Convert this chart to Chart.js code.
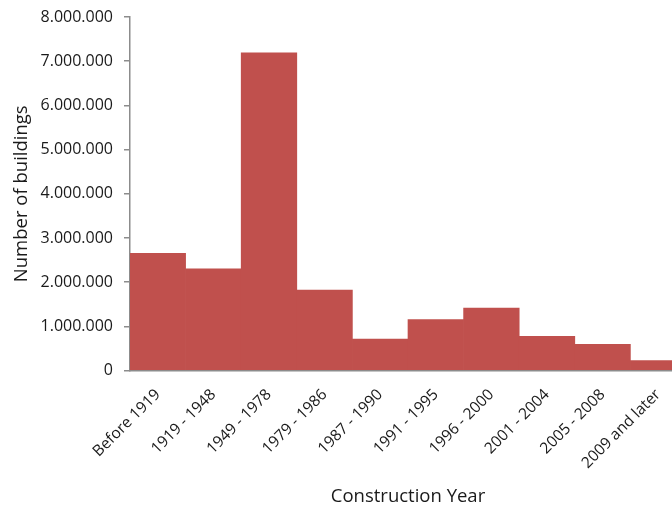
<!DOCTYPE html>
<html>
<head>
<meta charset="utf-8">
<script src="https://cdn.jsdelivr.net/npm/chart.js@4/dist/chart.umd.min.js"></script>
<style>
  html, body { margin: 0; padding: 0; background: #fff; overflow: hidden; }
  #wrap { width: 700px; height: 508px; }
</style>
</head>
<body>
<div id="wrap"><canvas id="c" width="700" height="508"></canvas></div>
<script>
// Building stock by construction period
const categories = [
  'Before 1919', '1919 - 1948', '1949 - 1978', '1979 - 1986', '1987 - 1990',
  '1991 - 1995', '1996 - 2000', '2001 - 2004', '2005 - 2008', '2009 and later'
];
const buildings = [2650000, 2300000, 7190000, 1820000, 710000, 1155000, 1410000, 775000, 590000, 225000];
const yTickValues = [0, 1000000, 2000000, 3000000, 4000000, 5000000, 6000000, 7000000, 8000000];

const fontFamily = "'Open Sans', 'Liberation Sans', sans-serif";
const textColor = '#1a1a1a';
const axisColor = '#8c8c8c';

// thousands separated with dots: 8.000.000
function dotted(v) {
  return String(Math.round(v)).replace(/\B(?=(\d{3})+(?!\d))/g, '.');
}

new Chart(document.getElementById('c'), {
  type: 'bar',
  data: {
    labels: categories,
    datasets: [{
      data: buildings,
      backgroundColor: '#C0504D',
      borderWidth: 0,
      categoryPercentage: 1.0,
      barPercentage: 1.0
    }]
  },
  options: {
    responsive: false,
    animation: false,
    layout: { padding: { top: 0, right: 14, left: 0, bottom: 0 } },
    plugins: { legend: { display: false }, tooltip: { enabled: false } },
    scales: {
      x: {
        grid: { display: false, drawTicks: false },
        border: { display: true, color: axisColor, width: 1.5 },
        ticks: {
          color: textColor,
          font: { family: fontFamily, size: 15.5 },
          minRotation: 45,
          maxRotation: 45,
          padding: 15,
          autoSkip: false
        },
        title: {
          display: true,
          text: 'Construction Year',
          color: textColor,
          font: { family: fontFamily, size: 18.5 },
          padding: { top: 0, bottom: 0 }
        },
        afterFit: s => { s.height = 137.5; }
      },
      y: {
        min: 0,
        max: 8000000,
        afterBuildTicks: s => { s.ticks = yTickValues.map(v => ({ value: v })); },
        grid: { display: true, drawOnChartArea: false, drawTicks: true, tickLength: 6, color: axisColor, lineWidth: 1.5 },
        border: { display: true, color: axisColor, width: 1.5 },
        ticks: {
          color: textColor,
          font: { family: fontFamily, size: 16 },
          padding: 11,
          callback: v => dotted(v)
        },
        title: {
          display: true,
          text: 'Number of buildings',
          color: textColor,
          font: { family: fontFamily, size: 18.5 },
          padding: { top: 10.5, bottom: 0 }
        },
        afterFit: s => { s.width = 130; s.paddingTop = 17; }
      }
    }
  }
});
</script>
</body>
</html>
